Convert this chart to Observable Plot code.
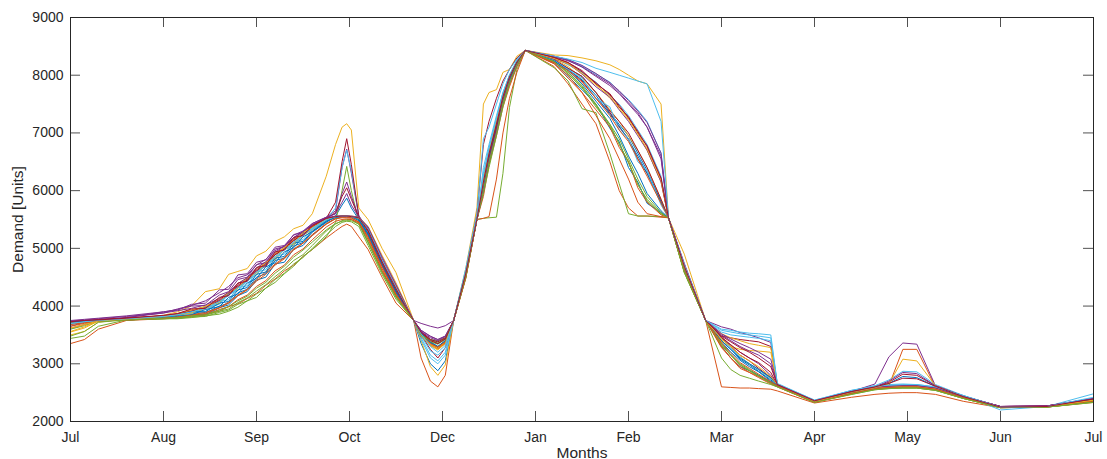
<!DOCTYPE html>
<html>
<head>
<meta charset="utf-8">
<script src="https://cdn.jsdelivr.net/npm/d3@7"></script>
<script src="https://cdn.jsdelivr.net/npm/@observablehq/plot@0.6"></script>
<style>
  html, body { margin: 0; padding: 0; background: #fff; }
</style>
</head>
<body>
<div id="chart"></div>
<script>
// sample positions, in months since July
const tPoints = [0,0.15,0.3,0.6,1.0,
  1.15,1.3,1.45,1.6,1.7,1.8,1.9,2.0,2.1,2.2,2.3,2.4,2.5,2.6,
  2.75,2.85,2.92,2.97,3.02,3.1,3.2,3.35,3.5,
  3.69,3.77,3.87,3.95,4.03,4.12,
  4.25,4.37,4.44,4.5,4.58,4.65,4.72,4.8,4.89,
  5.2,5.35,5.5,5.65,5.8,5.9,6.0,6.1,6.2,6.35,6.43,
  6.6,6.83,7.0,7.1,7.2,7.3,7.4,7.53,7.6,
  8.0,8.4,8.65,8.8,8.95,9.1,9.3,9.6,10.0,10.5,11.0];

const xTickPos = [0,1,2,3,4,5,6,7,8,9,10,11];
const xLabels = ["Jul","Aug","Sep","Oct","Dec","Jan","Feb","Mar","Apr","May","Jun","Jul"];
const yTicks = [2000,3000,4000,5000,6000,7000,8000,9000];

const colors = ["#0072BD","#D95319","#EDB120","#7E2F8E","#77AC30","#4DBEEE","#A2142F"];

const S0 = [3730,3740,3750,3770,3800,
  3820,3880,3880,4000,4050,4230,4290,4500,4560,4790,4830,5040,5100,5280,
  5450,5560,5750,5870,5700,5500,5260,4720,4260,
  3750,3540,3380,3300,3400,3750,
  4560,5500,6100,6650,7150,7650,7950,8230,8430,
  8260,8120,7980,7700,7350,7150,6950,6650,6350,5820,5530,
  4640,3750,3400,3250,3080,2980,2870,2720,2630,
  2350,2500,2570,2590,2600,2600,2560,2420,2250,2260,2380];
const S1 = [3350,3420,3600,3750,3780,
  3800,3810,3860,3910,3990,4040,4130,4220,4360,4470,4610,4710,4860,4980,
  5180,5300,5380,5420,5380,5200,4980,4500,4050,
  3750,3100,2700,2600,2800,3750,
  4500,5500,6000,6600,7100,7550,7900,8200,8430,
  8150,7850,7500,7160,6500,6000,5700,5560,5560,5540,5530,
  4600,3750,2600,2590,2580,2580,2570,2560,2530,
  2320,2420,2470,2490,2500,2500,2470,2350,2240,2250,2330];
const S2 = [3500,3560,3720,3780,3840,
  3900,4000,4250,4300,4550,4600,4650,4870,4950,5120,5200,5340,5400,5600,
  6250,6800,7100,7160,7050,5700,5500,5000,4580,
  3750,3520,3360,3250,3370,3750,
  4650,5700,7500,7700,7750,8050,8100,8330,8430,
  8300,8200,8050,7850,7600,7450,7250,7000,6700,6150,5530,
  4700,3750,3420,3300,3120,3000,2900,2740,2640,
  2350,2510,2580,2600,2610,2610,2570,2430,2250,2260,2360];
const S3 = [3650,3720,3760,3800,3900,
  3930,4030,4050,4280,4290,4540,4560,4760,4800,5020,5050,5230,5300,5430,
  5540,5650,6400,6720,6300,5560,5350,4820,4350,
  3750,3700,3650,3620,3660,3750,
  4520,5500,6000,6500,7000,7500,7850,8150,8430,
  8320,8250,8150,8000,7850,7700,7520,7350,7100,6550,5530,
  4700,3750,3640,3600,3540,3500,3450,3370,2640,
  2360,2520,2590,2610,2620,2620,2580,2430,2260,2270,2400];
const S4 = [3440,3480,3650,3760,3780,
  3780,3800,3830,3860,3910,3980,4090,4150,4310,4410,4560,4690,4860,4980,
  5200,5450,6000,6420,6000,5450,5100,4600,4150,
  3750,3520,3420,3380,3440,3750,
  4500,5500,5520,5530,5540,6300,7440,8100,8430,
  8230,8050,7800,7450,7150,6800,6500,6100,5850,5600,5530,
  4600,3750,3350,3150,3000,2900,2800,2680,2610,
  2340,2480,2560,2580,2580,2580,2540,2400,2240,2250,2340];
const S5 = [3600,3680,3740,3770,3810,
  3840,3860,3960,4030,4200,4270,4430,4550,4720,4820,4980,5050,5230,5330,
  5500,5700,6400,6700,6350,5560,5300,4750,4280,
  3750,3450,3150,3050,3200,3750,
  4600,5500,6400,6800,7300,7700,8000,8250,8430,
  8300,8180,8050,7880,7650,7500,7300,7050,6800,6250,5530,
  4650,3750,3550,3500,3480,3460,3440,3400,2650,
  2360,2540,2620,2640,2650,2640,2600,2450,2200,2260,2480];
const S6 = [3700,3730,3750,3780,3820,
  3850,3910,3970,4090,4190,4330,4440,4610,4690,4890,4990,5130,5240,5380,
  5520,5800,6500,6900,6450,5560,5300,4750,4280,
  3750,3500,3250,3100,3280,3750,
  4580,5500,6200,6700,7200,7620,7950,8220,8430,
  8250,8100,7900,7600,7350,7100,6900,6550,6300,5800,5530,
  4660,3750,3480,3450,3420,3400,3380,3300,2640,
  2350,2510,2580,2600,2610,2610,2570,2420,2250,2260,2380];
const S7 = [3700,3730,3750,3760,3790,
  3800,3850,3850,3970,4020,4180,4250,4450,4500,4730,4760,4990,5050,5230,
  5420,5520,5550,5550,5540,5480,5220,4700,4230,
  3750,3350,3000,2880,3050,3750,
  4550,5500,6000,6550,7100,7550,7900,8200,8430,
  8220,7980,7750,7500,7080,6850,6400,6150,5780,5620,5530,
  4620,3750,3300,3100,2950,2880,2800,2680,2620,
  2350,2490,2560,2590,2600,2600,2560,2410,2250,2260,2370];
const S8 = [3650,3700,3740,3760,3790,
  3810,3850,3890,3970,4070,4190,4290,4460,4590,4730,4840,4990,5090,5240,
  5430,5520,5540,5540,5530,5450,5180,4650,4200,
  3750,3480,3330,3280,3360,3750,
  4530,5500,6050,6550,7100,7580,7900,8200,8430,
  8200,8000,7700,7400,7100,6750,6500,6050,5800,5580,5530,
  4620,3750,3280,3100,2950,2850,2780,2670,2610,
  2340,2500,2580,2620,3250,3250,2600,2420,2250,2260,2360];
const S9 = [3550,3620,3740,3770,3810,
  3840,3870,3960,4040,4220,4280,4450,4540,4730,4800,4980,5050,5230,5320,
  5480,5540,5550,5550,5550,5510,5300,4760,4300,
  3750,3400,2950,2800,2980,3750,
  4600,5500,6200,6700,7200,7650,7980,8240,8430,
  8280,8150,7950,7700,7400,7200,6950,6700,6400,5850,5530,
  4680,3750,3520,3450,3400,3350,3320,3280,2630,
  2350,2510,2570,2600,2600,2600,2570,2420,2250,2260,2370];
const S10 = [3720,3740,3760,3800,3880,
  3950,4010,4090,4230,4340,4490,4540,4710,4810,4960,5040,5190,5290,5400,
  5530,5600,5950,6150,5900,5540,5320,4780,4300,
  3750,3580,3480,3420,3480,3750,
  4600,5500,6100,6600,7150,7600,7950,8200,8430,
  8280,8200,8020,7800,7620,7400,7200,6950,6700,6150,5530,
  4660,3750,3450,3320,3200,3100,3000,2800,2630,
  2360,2520,2650,3120,3360,3340,2620,2440,2260,2270,2390];
const S11 = [3600,3660,3740,3760,3780,
  3790,3820,3840,3910,3950,4060,4140,4260,4370,4510,4640,4790,4890,5050,
  5300,5420,5480,5500,5500,5420,5100,4600,4180,
  3750,3480,3380,3340,3420,3750,
  4520,5500,6000,6450,7000,7500,7850,8180,8430,
  8130,7900,7420,7350,6640,6120,5600,5560,5560,5550,5530,
  4580,3750,3320,3150,2980,2880,2780,2660,2600,
  2340,2470,2550,2570,2580,2580,2540,2400,2240,2250,2340];
const S12 = [3680,3720,3750,3780,3810,
  3840,3900,3910,4080,4110,4320,4350,4590,4630,4860,4900,5110,5150,5330,
  5480,5540,5560,5560,5550,5520,5320,4780,4310,
  3750,3420,3100,3000,3150,3750,
  4620,5500,6300,6750,7250,7700,8000,8260,8430,
  8330,8270,8160,8020,7880,7720,7580,7400,7200,6650,5530,
  4700,3750,3580,3550,3520,3500,3480,3450,2650,
  2370,2530,2600,2620,2630,2630,2590,2440,2250,2260,2400];
const S13 = [3720,3740,3760,3790,3830,
  3870,3930,3990,4110,4220,4360,4470,4630,4740,4910,5010,5160,5270,5400,
  5520,5620,5900,6050,5850,5540,5300,4760,4280,
  3750,3560,3420,3350,3440,3750,
  4600,5600,6800,7200,7600,7900,8100,8300,8430,
  8270,8120,7980,7700,7380,7200,7000,6700,6400,5850,5530,
  4650,3750,3460,3300,3150,3050,2920,2760,2640,
  2350,2510,2590,2610,2620,2620,2580,2430,2250,2260,2380];
const S14 = [3730,3740,3750,3770,3800,
  3830,3850,3940,3990,4150,4210,4400,4480,4680,4750,4940,5010,5200,5290,
  5460,5540,5560,5560,5550,5500,5240,4700,4240,
  3750,3530,3370,3300,3400,3750,
  4560,5500,6100,6600,7100,7600,7950,8210,8430,
  8250,8100,7920,7650,7320,7120,6880,6600,6300,5800,5530,
  4640,3750,3380,3200,3060,2950,2860,2700,2620,
  2350,2500,2570,2590,2600,2600,2560,2420,2250,2260,2370];
const S15 = [3620,3680,3740,3760,3790,
  3800,3830,3850,3940,3990,4110,4190,4340,4440,4610,4710,4890,4990,5150,
  5370,5470,5500,5510,5500,5440,5150,4620,4180,
  3750,3460,3320,3260,3350,3750,
  4500,5500,5900,6450,6950,7450,7800,8150,8430,
  8200,7950,7700,7300,6900,6550,6200,5800,5600,5550,5530,
  4600,3750,3300,3100,2920,2850,2760,2650,2600,
  2330,2480,2560,2580,2590,2590,2550,2410,2240,2250,2350];
const S16 = [3560,3640,3740,3780,3830,
  3860,3930,3990,4130,4240,4390,4490,4650,4760,4910,5010,5150,5250,5380,
  5510,5550,5560,5560,5560,5540,5380,4880,4400,
  3750,3500,3330,3270,3380,3750,
  4580,5500,6150,6650,7150,7620,7950,8230,8430,
  8350,8340,8300,8250,8180,8100,8000,7900,7850,7500,5530,
  4900,3750,3380,3300,3250,3230,3220,3200,2640,
  2360,2510,2580,2600,2610,2610,2570,2430,2250,2260,2370];
const S17 = [3750,3770,3790,3830,3900,
  3940,4000,4010,4190,4250,4460,4500,4720,4750,4990,5030,5240,5270,5430,
  5540,5600,5800,5950,5750,5540,5330,4800,4320,
  3750,3580,3470,3420,3480,3750,
  4560,5500,6050,6550,7050,7550,7900,8200,8430,
  8320,8260,8140,7980,7820,7680,7500,7320,7100,6600,5530,
  4720,3750,3500,3400,3300,3220,3150,3000,2640,
  2360,2520,2590,2610,2620,2620,2580,2430,2260,2270,2400];
const S18 = [3700,3720,3740,3760,3780,
  3790,3810,3820,3890,3930,4030,4090,4210,4310,4460,4570,4730,4840,5000,
  5230,5380,5450,5470,5460,5380,5050,4550,4120,
  3750,3500,3420,3400,3450,3750,
  4480,5500,5950,6400,6950,7450,7850,8170,8430,
  8230,8050,7820,7500,7150,6900,6550,6200,5900,5620,5530,
  4580,3750,3330,3150,2980,2880,2790,2670,2610,
  2340,2480,2560,2580,2590,2590,2550,2400,2240,2250,2340];
const S19 = [3690,3720,3750,3780,3810,
  3840,3870,3980,4040,4210,4270,4460,4540,4730,4810,4990,5060,5250,5340,
  5490,5550,5560,5560,5550,5520,5300,4760,4290,
  3750,3480,3220,3150,3280,3750,
  4650,5600,6900,7100,7500,7850,8100,8280,8430,
  8260,8100,7950,7600,7450,7050,6900,6500,6350,5750,5530,
  4640,3750,3440,3280,3120,3000,2900,2740,2640,
  2360,2530,2620,2720,2870,2860,2640,2450,2250,2260,2400];
const S20 = [3730,3750,3770,3790,3830,
  3860,3910,3970,4090,4190,4340,4450,4610,4730,4890,4990,5140,5240,5370,
  5510,5550,5560,5560,5550,5530,5290,4740,4270,
  3750,3550,3420,3380,3450,3750,
  4560,5500,6100,6600,7100,7600,7950,8210,8430,
  8300,8220,8080,7850,7680,7450,7280,7000,6780,6200,5530,
  4660,3750,3460,3330,3200,3100,3020,2850,2630,
  2360,2520,2600,2680,2820,2800,2620,2440,2260,2270,2390];
const S21 = [3730,3740,3750,3770,3810,
  3840,3900,3900,4050,4080,4280,4320,4550,4590,4830,4860,5090,5120,5300,
  5470,5540,5550,5550,5550,5510,5250,4710,4250,
  3750,3520,3360,3290,3390,3750,
  4570,5500,6100,6620,7150,7620,7950,8220,8430,
  8250,8080,7850,7550,7250,6950,6600,6300,5950,5650,5530,
  4640,3750,3400,3250,3100,3000,2900,2760,2630,
  2350,2510,2590,2660,2780,2760,2610,2430,2250,2260,2380];
const S22 = [3680,3710,3740,3760,3790,
  3810,3840,3870,3970,4050,4180,4280,4430,4550,4710,4820,4970,5090,5220,
  5420,5510,5530,5530,5520,5460,5200,4680,4210,
  3750,3500,3350,3290,3380,3750,
  4480,5500,5520,5550,6200,7000,7600,8050,8430,
  8220,8080,7880,7600,7300,7050,6850,6550,6250,5780,5530,
  4620,3750,3360,3180,3020,2920,2820,2690,2620,
  2340,2490,2570,2590,2600,2600,2560,2410,2250,2260,2360];
const S23 = [3620,3680,3740,3770,3820,
  3850,3880,4000,4060,4240,4310,4490,4570,4760,4840,5020,5080,5280,5360,
  5500,5550,5560,5560,5550,5520,5320,4790,4330,
  3750,3490,3310,3240,3350,3750,
  4590,5500,6150,6680,7200,7640,7980,8240,8430,
  8290,8200,8030,7830,7640,7420,7230,6980,6720,6180,5530,
  4680,3750,3430,3300,3150,3050,2950,2780,2640,
  2350,2510,2590,2650,3080,3050,2620,2430,2250,2260,2370];
const S24 = [3740,3760,3780,3820,3880,
  3920,3960,4020,4130,4240,4390,4490,4660,4770,4930,5040,5180,5290,5410,
  5530,5560,5560,5560,5560,5540,5370,4850,4370,
  3750,3560,3450,3400,3470,3750,
  4540,5500,6000,6500,7000,7520,7880,8180,8430,
  8330,8270,8170,8030,7870,7730,7560,7380,7180,6650,5530,
  4740,3750,3520,3430,3350,3280,3200,3080,2640,
  2360,2520,2600,2700,2850,2830,2620,2440,2260,2270,2400];
const S25 = [3480,3560,3720,3760,3790,
  3800,3830,3850,3930,3990,4090,4170,4310,4410,4570,4690,4850,4970,5110,
  5320,5430,5470,5480,5480,5420,5120,4580,4160,
  3750,3490,3400,3360,3430,3750,
  4520,5500,6000,6500,7000,7520,7880,8180,8430,
  8240,8020,7780,7480,7120,6820,6480,6120,5820,5600,5530,
  4600,3750,3100,2900,2800,2750,2700,2640,2600,
  2330,2470,2550,2570,2580,2580,2540,2400,2240,2250,2330];
const S26 = [3700,3730,3750,3780,3820,
  3850,3900,3960,4080,4180,4320,4430,4590,4710,4860,4970,5110,5220,5350,
  5500,5550,5560,5560,5550,5530,5330,4800,4320,
  3750,3520,3300,3200,3320,3750,
  4610,5500,6250,6720,7250,7680,8000,8250,8430,
  8330,8280,8220,8120,8050,8000,7950,7900,7850,7200,5530,
  4720,3750,3600,3580,3550,3530,3520,3500,2660,
  2370,2540,2610,2630,2640,2640,2600,2450,2250,2260,2420];
const S27 = [3730,3750,3760,3790,3840,
  3870,3950,3960,4150,4180,4400,4430,4670,4700,4940,4970,5190,5220,5390,
  5520,5550,5560,5560,5550,5530,5310,4770,4300,
  3750,3540,3400,3350,3430,3750,
  4570,5500,6150,6640,7150,7630,7970,8230,8430,
  8310,8220,8060,7870,7660,7480,7260,7030,6760,6220,5530,
  4690,3750,3480,3380,3280,3200,3100,2950,2640,
  2360,2520,2600,2660,2750,2740,2610,2430,2250,2260,2390];

const series = [S0,S1,S2,S3,S4,S5,S6,S7,S8,S9,S10,S11,S12,S13,S14,S15,S16,S17,S18,S19,S20,S21,S22,S23,S24,S25,S26,S27];

const W = 1107, H = 459;
const mL = 70, mR = 14, mT = 17, mB = 38;
const plotW = W - mL - mR, plotH = H - mT - mB;
const ink = "#262626";
const tickLen = 10;

const lineMarks = series.map((vals, k) =>
  Plot.line(tPoints, {x: d => d, y: (d, i) => vals[i], stroke: colors[k % 7], strokeWidth: 1})
);

const chart = Plot.plot({
  width: W,
  height: H,
  marginLeft: mL,
  marginRight: mR,
  marginTop: mT,
  marginBottom: mB,
  style: {fontFamily: '"Liberation Sans", Arial, Helvetica, sans-serif', fontSize: "14px", color: ink, background: "#fff"},
  x: {domain: [0, 11]},
  y: {domain: [2000, 9000]},
  marks: [
    ...lineMarks,
    Plot.tickX(xTickPos, {x: d => d, stroke: ink, strokeOpacity: 0.8, insetTop: plotH - tickLen}),
    Plot.tickX(xTickPos, {x: d => d, stroke: ink, strokeOpacity: 0.8, insetBottom: plotH - tickLen}),
    Plot.tickY(yTicks, {y: d => d, stroke: ink, strokeOpacity: 0.8, insetRight: plotW - tickLen}),
    Plot.tickY(yTicks, {y: d => d, stroke: ink, strokeOpacity: 0.8, insetLeft: plotW - tickLen}),
    Plot.frame({stroke: ink}),
    Plot.axisX(xTickPos, {tickSize: 0, tickPadding: 11, tickFormat: d => xLabels[xTickPos.indexOf(d)], label: null, fill: ink}),
    Plot.axisY(yTicks, {tickSize: 0, tickPadding: 7, tickFormat: d => String(d), label: null, fill: ink}),
    Plot.text(["Demand [Units]"], {frameAnchor: "left", dx: -48, rotate: -90, textAnchor: "middle", lineAnchor: "bottom", fontSize: 15.5, fill: ink}),
    Plot.text(["Months"], {frameAnchor: "bottom", dy: 36, textAnchor: "middle", lineAnchor: "bottom", fontSize: 15.5, fill: ink})
  ]
});

document.getElementById("chart").appendChild(chart);
</script>
</body>
</html>
